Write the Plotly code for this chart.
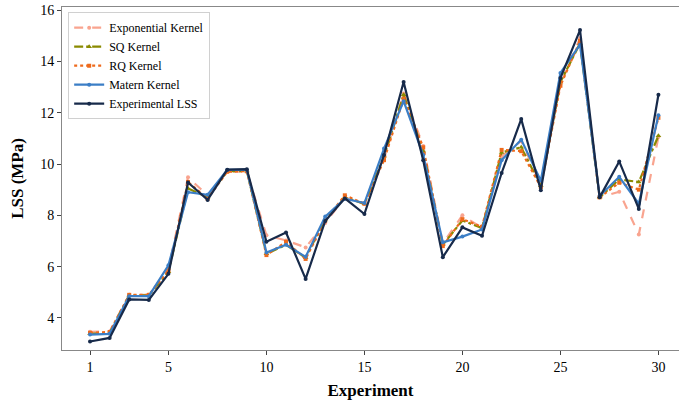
import plotly.graph_objects as go

experiments = list(range(1, 31))
exp_lss = [3.08, 3.22, 4.72, 4.70, 5.72, 9.28, 8.60, 9.78, 9.80, 6.97, 7.33, 5.52, 7.78, 8.66, 8.05,
           10.35, 13.2, 10.15, 6.37, 7.53, 7.2, 9.65, 11.75, 8.98, 13.35, 15.22, 8.7, 10.1, 8.25, 12.7]
matern = [3.35, 3.38, 4.85, 4.85, 6.05, 8.9, 8.8, 9.77, 9.77, 6.55, 6.85, 6.38, 7.95, 8.65, 8.48,
          10.6, 12.45, 10.35, 6.95, 7.17, 7.45, 10.15, 10.95, 9.35, 13.55, 14.65, 8.75, 9.5, 8.45, 11.9]
sq = [3.38, 3.42, 4.88, 4.88, 5.8, 9.05, 8.7, 9.72, 9.73, 6.5, 6.85, 6.35, 7.85, 8.7, 8.45,
      10.3, 12.7, 10.5, 6.85, 7.8, 7.5, 10.45, 10.65, 9.15, 13.2, 14.7, 8.7, 9.4, 9.3, 11.1]
rq = [3.42, 3.45, 4.9, 4.9, 5.85, 9.3, 8.65, 9.7, 9.72, 6.45, 6.97, 6.3, 7.8, 8.78, 8.45,
      10.15, 12.55, 10.65, 6.8, 7.85, 7.55, 10.55, 10.5, 9.1, 13.05, 14.8, 8.7, 9.27, 9.0, 11.8]
expk = [3.46, 3.47, 4.9, 4.9, 5.9, 9.48, 8.78, 9.7, 9.7, 7.22, 7.02, 6.75, 7.7, 8.7, 8.45,
        10.2, 12.75, 10.7, 6.9, 8.0, 7.5, 10.3, 10.9, 9.2, 13.1, 14.9, 8.7, 8.92, 7.25, 11.05]

x_ticks = [1, 5, 10, 15, 20, 25, 30]
y_ticks = [4, 6, 8, 10, 12, 14, 16]

series = [
    ("Exponential Kernel", expk, "#f9a48f", "dash", "circle", 4),
    ("SQ Kernel", sq, "#8a8a00", "dashdot", "triangle-up", 5),
    ("RQ Kernel", rq, "#ee6a1c", "dot", "square", 4),
    ("Matern Kernel", matern, "#3b7ec6", "solid", "circle", 4),
    ("Experimental LSS", exp_lss, "#172a4a", "solid", "circle", 4),
]

fig = go.Figure()
for name, vals, color, dash, sym, ms in series:
    fig.add_trace(go.Scatter(
        x=experiments, y=vals, name=name, mode="lines+markers",
        line=dict(color=color, width=2.2, dash=dash),
        marker=dict(symbol=sym, size=ms, color=color),
    ))

font_family = "Liberation Serif"
fig.update_layout(
    width=679, height=405,
    margin=dict(l=62, r=0, t=7, b=55),
    paper_bgcolor="white", plot_bgcolor="white",
    font=dict(family=font_family, color="black", size=14),
    showlegend=True,
    legend=dict(x=0.01, y=0.985, xanchor="left", yanchor="top",
                bgcolor="rgba(255,255,255,0.9)", bordercolor="#d0d0d0", borderwidth=1,
                font=dict(family=font_family, size=12), tracegroupgap=0,
                itemwidth=30),
)
fig.update_xaxes(
    range=[-0.43, 31.05], tickvals=x_ticks, ticks="outside", ticklen=4,
    showline=True, linecolor="#888888", linewidth=1, mirror=True,
    showgrid=False, zeroline=False,
    tickfont=dict(family=font_family, size=14),
    title=dict(text="<b>Experiment</b>", font=dict(family=font_family, size=17), standoff=10),
)
fig.update_yaxes(
    range=[2.75, 16.12], tickvals=y_ticks, ticks="outside", ticklen=4,
    showline=True, linecolor="#888888", linewidth=1, mirror=False,
    showgrid=False, zeroline=False,
    tickfont=dict(family=font_family, size=14),
    title=dict(text="<b>LSS (MPa)</b>", font=dict(family=font_family, size=17), standoff=12),
)
fig.write_html("out.html", config={"displayModeBar": False},
               post_script="document.body.style.margin='0';document.body.style.overflow='hidden';")
